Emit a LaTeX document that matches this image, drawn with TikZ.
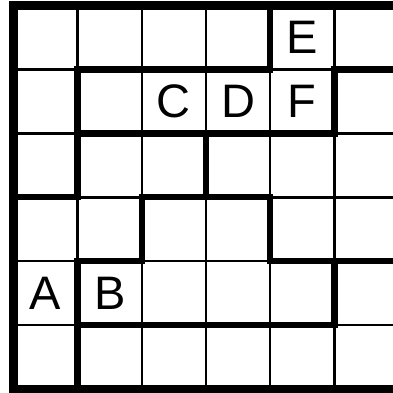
\documentclass[tikz,border=0pt]{standalone}
\usepackage{fontspec}
\setmainfont{Liberation Sans}
\tikzset{
  thinline/.style={line width=2.6pt, black},
  thickline/.style={line width=6.5pt, black, line cap=rect},
  outerline/.style={line width=8.5pt, black, line cap=rect},
  letter/.style={font=\fontsize{47}{47}\selectfont, inner sep=0pt, anchor=center}
}
\begin{document}
\begin{tikzpicture}
\useasboundingbox (0,0) rectangle (393pt,-392pt);
\clip (0,0) rectangle (393pt,-392pt);
\begin{scope}[shift={(13.5pt,-5.5pt)}, x=64.15pt, y=-63.9pt]
  % thin grid
  \foreach \i in {1,...,5} \draw[thinline] (\i,0) -- (\i,6);
  \foreach \j in {1,...,5} \draw[thinline] (0,\j) -- (6.5,\j);
  % thick region borders
  \draw[thickline] (1,1) -- (4,1);
  \draw[thickline] (5,1) -- (6.5,1);
  \draw[thickline] (4,0) -- (4,1);
  \draw[thickline] (5,1) -- (5,2);
  \draw[thickline] (1,1) -- (1,3);
  \draw[thickline] (1,2) -- (5,2);
  \draw[thickline] (3,2) -- (3,3);
  \draw[thickline] (0,3) -- (1,3);
  \draw[thickline] (2,3) -- (4,3);
  \draw[thickline] (2,3) -- (2,4);
  \draw[thickline] (4,3) -- (4,4);
  \draw[thickline] (1,4) -- (2,4);
  \draw[thickline] (4,4) -- (6.5,4);
  \draw[thickline] (5,4) -- (5,5);
  \draw[thickline] (1,5) -- (5,5);
  \draw[thickline] (1,4) -- (1,6);
  % outer border
  \draw[outerline] (6.5,0) -- (0,0) -- (0,6) -- (6.5,6);
  % letters
  \node[letter] (E) at (4.5,0.5) {E};
  \node[letter] (C) at (2.5,1.5) {C};
  \node[letter] (D) at (3.5,1.5) {D};
  \node[letter] (F) at (4.5,1.5) {F};
  \node[letter] (A) at (0.5,4.5) {A};
  \node[letter] (B) at (1.5,4.5) {B};
\end{scope}
\end{tikzpicture}
\end{document}
